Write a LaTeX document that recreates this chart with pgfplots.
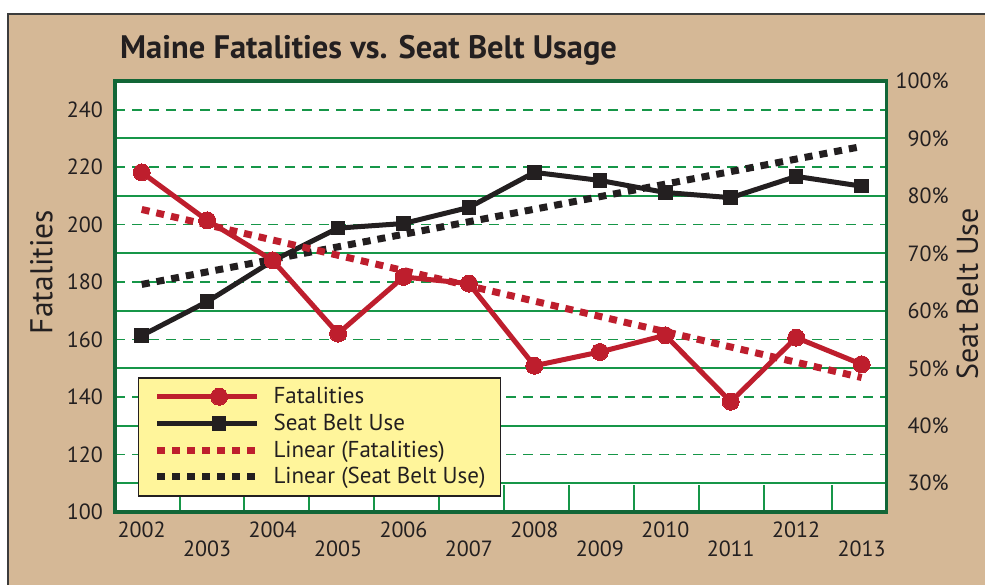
\documentclass[border=0pt]{standalone}
\usepackage{pgfplots}
\pgfplotsset{compat=1.18}
\usepackage{pgfplotstable}
\usepackage{fontspec}
\setmainfont{PT Sans}

\definecolor{tanbg}{RGB}{213,184,150}
\definecolor{framegray}{RGB}{60,60,60}
\definecolor{txt}{RGB}{35,31,32}
\definecolor{fatred}{RGB}{190,30,45}
\definecolor{beltblack}{RGB}{35,31,32}
\definecolor{gridgreen}{RGB}{22,150,72}
\definecolor{framegreen}{RGB}{18,102,55}
\definecolor{legyellow}{RGB}{255,245,155}

% year index 0 = 2002
\pgfplotstableread{
yr fat belt
0 218.2 55.7
1 201.5 61.6
2 187.6 68.7
3 162.1 74.4
4 181.8 75.2
5 179.5 78.0
6 150.9 84.1
7 155.7 82.7
8 161.5 80.6
9 138.4 79.7
10 160.7 83.4
11 151.4 81.7
}\maine

\pgfplotsset{
  base/.style={scale only axis, width=771.7pt, height=431pt,
    at={(115pt,-512pt)}, anchor=south west, xmin=-0.408, xmax=11.383},
  ticks font/.style={font=\fontsize{22}{25}\selectfont, text=txt},
  legimg/.style={legend image code/.code={%
    \draw[##1, mark repeat=2, mark phase=2] plot coordinates {(0pt,0pt) (62pt,0pt) (100pt,0pt)};}},
  fatline/.style={fatred, line width=5pt, line join=round, mark=*,
    mark size=8.5pt, mark options={solid, fill=fatred, draw=fatred, line width=0pt}, legimg},
  beltline/.style={beltblack, line width=5pt, line join=round, mark=square*,
    mark size=6.8pt, mark options={solid, fill=beltblack, draw=beltblack, line width=0pt}, legimg},
  fattrend/.style={fatred, line width=7pt, dash pattern=on 8pt off 7pt, legimg},
  belttrend/.style={beltblack, line width=7pt, dash pattern=on 8pt off 7pt, legimg},
}

\begin{document}
\begin{tikzpicture}[x=1pt, y=1pt]
\useasboundingbox (0,0) rectangle (985,-584);
\fill[tanbg] (8,-14) rectangle (990,-590);
\draw[framegray, line width=2.3pt] (8,-590) -- (8,-14) -- (990,-14);
\node[anchor=base west, inner sep=0pt, text=txt, font=\bfseries\fontsize{32.5}{37}\selectfont]
  at (120,-58) {Maine Fatalities vs. Seat Belt Usage};

% left axis: background, dashed grid, ticks, labels
\begin{axis}[base, ymin=100, ymax=250,
  axis background/.style={fill=white},
  axis line style={draw=none},
  ytick={100,120,...,240}, ytick pos=left,
  ymajorgrids, major grid style={gridgreen, line width=1.6pt, dash pattern=on 10pt off 7pt},
  major tick length=0pt, major tick style={draw=none},
  xtick={0,2,...,10}, xticklabels={2002,2004,2006,2008,2010,2012},
  extra x ticks={1,3,...,11}, extra x tick labels={2003,2005,2007,2009,2011,2013},
  extra x tick style={xticklabel style={yshift=-19pt}, major tick style={draw=none}},
  minor xtick={0.58,1.57,2.56,3.55,4.54,5.53,6.53,7.52,8.51,9.51,10.55},
  xtick pos=left, tick align=inside, minor tick length=27pt,
  minor tick style={gridgreen, line width=2pt},
  tick label style={ticks font},
  xticklabel style={anchor=north, inner sep=0pt, yshift=-10pt},
  yticklabel style={anchor=east, inner sep=0pt, xshift=-12pt},
  /pgf/number format/assume math mode=true,
  ylabel={Fatalities},
  ylabel style={at={(axis description cs:-0.0955,0.557)}, anchor=center,
    font=\fontsize{31.5}{36}\selectfont, text=txt},
]
\end{axis}

% right axis: solid grid and seat belt use
\begin{axis}[base, ymin=25, ymax=100,
  axis x line=none, axis y line*=right, y axis line style={draw=none},
  ytick={30,40,...,100},
  yticklabels={30\%,40\%,50\%,60\%,70\%,80\%,90\%,100\%},
  ymajorgrids, major grid style={gridgreen, line width=2pt},
  major tick length=0pt, major tick style={draw=none},
  tick label style={ticks font},
  yticklabel style={anchor=east, inner sep=0pt, xshift=62pt},
  ylabel={Seat Belt Use},
  ylabel style={at={(axis description cs:1.1045,0.506)}, anchor=center,
    font=\fontsize{30}{34}\selectfont, text=txt},
]
\addplot[beltline] table[x=yr, y=belt] {\maine};
\addplot[belttrend] coordinates {(0,64.6) (11,88.6)};
\end{axis}

% fatalities, frame and legend
\begin{axis}[base, ymin=100, ymax=250,
  xtick=\empty, ytick=\empty,
  axis line style={draw=framegreen, line width=3.3pt},
  legend cell align=left,
  legend style={at={(0.0294,0.0355)}, anchor=south west,
    fill=legyellow, draw=txt, line width=1.8pt,
    inner xsep=15pt, inner ysep=9pt, row sep=6.7pt, column sep=13pt,
    font=\fontsize{23}{26}\selectfont, text=txt,
    nodes={inner sep=0pt, text height=17pt, text depth=3pt}},
]
\addplot[fatline] table[x=yr, y=fat] {\maine};
\addlegendentry{Fatalities}
\addlegendimage{beltline}
\addlegendentry{Seat Belt Use}
\addplot[fattrend] coordinates {(0,205.3) (11,146.8)};
\addlegendentry{Linear (Fatalities)}
\addlegendimage{belttrend}
\addlegendentry{Linear (Seat Belt Use)}
\end{axis}
\end{tikzpicture}
\end{document}
